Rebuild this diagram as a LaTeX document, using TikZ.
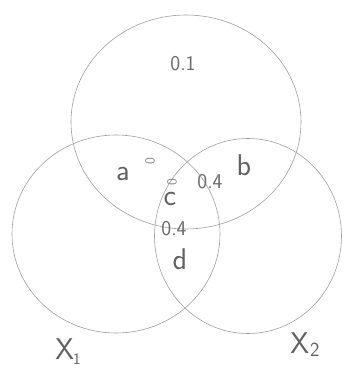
\documentclass[tikz,border=0pt]{standalone}
\usetikzlibrary{shapes.geometric}

\begin{document}
\begin{tikzpicture}[
  x=1pt, y=-1pt,
  font=\sffamily,
  set/.style  ={ellipse, draw=black!38, line width=0.6pt, inner sep=0pt},
  lab/.style  ={text=black!62, inner sep=0pt, font=\sffamily\fontsize{30}{32}\selectfont},
  prob/.style ={text=black!58, inner sep=0pt, font=\sffamily\fontsize{21}{23}\selectfont},
  faint/.style={text=black!45, inner sep=0pt, font=\sffamily\fontsize{14}{16}\selectfont},
]
\useasboundingbox (0,0) rectangle (351,383);

% ---------------- the three sets ----------------
\node[set, minimum width=230pt, minimum height=214pt] (top) at (186,122) {};
\node[set, minimum width=208pt, minimum height=198pt] (xone) at (116,234) {};
\node[set, minimum width=187pt, minimum height=195pt] (xtwo) at (248,236) {};

% ---------------- region labels ----------------
\node[prob] (ptop) at (183,64) {0.1};
\node[lab]  (ra) at (123,174) {a};
\node[lab]  (rb) at (244,165) {b};
\node[lab]  (rc) at (170,199) {c};
\node[lab]  (rd) at (180,259) {d};
\node[prob] (pb) at (210,182) {0.4};
\node[prob] (pd) at (174,229) {0.4};
\node[faint, rotate=90] (za) at (150,161) {0};
\node[faint, rotate=90] (zc) at (172,182) {0};

% ---------------- set names ----------------
\node[lab] (lone) at (68,352) {X\kern-1pt\raisebox{-5pt}{\fontsize{16}{18}\selectfont 1}};
\node[lab] (ltwo) at (305,345) {X\kern1pt\raisebox{-3pt}{\fontsize{20}{22}\selectfont 2}};

\end{tikzpicture}
\end{document}
